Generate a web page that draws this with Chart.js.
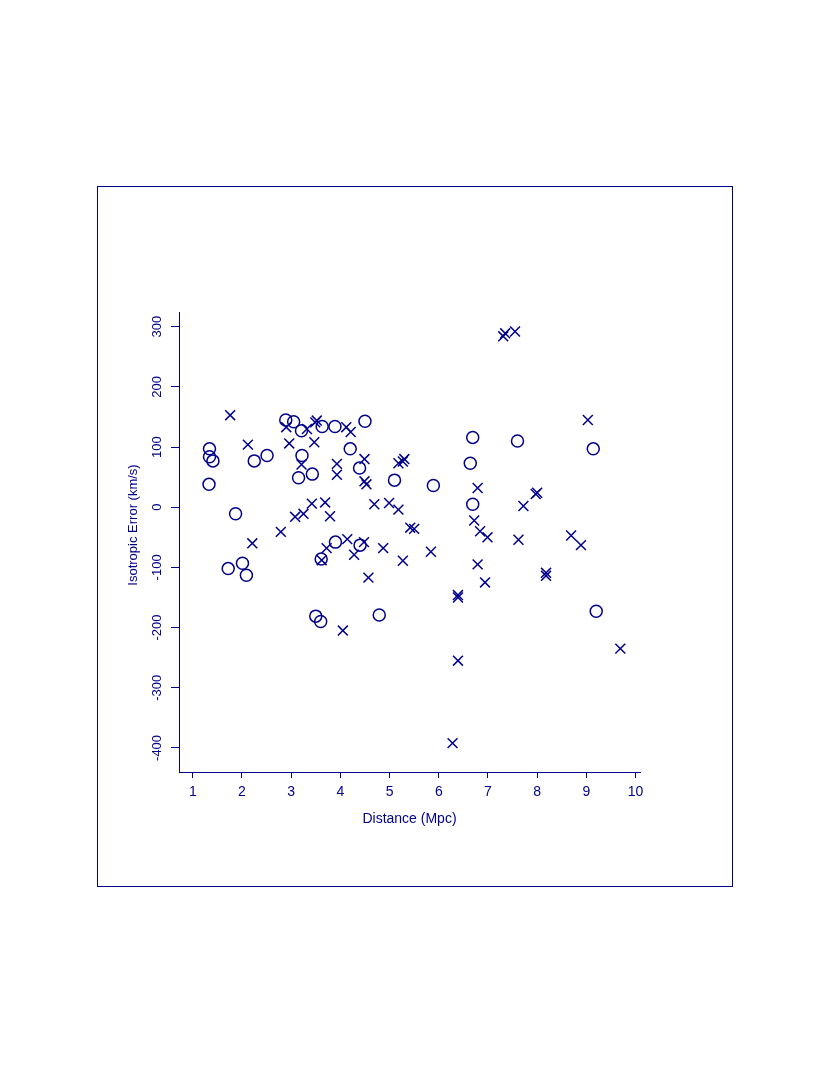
<!DOCTYPE html>
<html><head><meta charset="utf-8">
<style>html,body{margin:0;padding:0;background:#fff;}#wrap{width:830px;height:1075px;}</style>
<script src="https://cdn.jsdelivr.net/npm/chart.js@4/dist/chart.umd.min.js"></script>
</head><body><div id="wrap"><canvas id="c" width="830" height="1075"></canvas></div>
<script>
// Open circles
const circleDistance = [1.34, 1.34, 1.41, 1.33, 1.87, 1.72, 2.01, 2.09, 2.25, 2.51, 2.89, 3.05, 3.21, 3.22, 3.15, 3.43, 3.63, 3.89, 4.50, 4.20, 4.39, 5.10, 3.90, 4.40, 3.61, 3.50, 3.60, 4.79, 5.89, 6.69, 6.64, 6.69, 7.60, 9.14, 9.20];
const circleError    = [97, 84, 77, 38, -11, -102, -93, -113, 77, 86, 145, 142, 127, 86, 49, 55, 134, 134, 143, 97, 65, 45, -58, -63, -86, -181, -190, -179, 36, 116, 73, 5, 110, 97, -173];
// Crosses
const crossDistance = [1.76, 2.12, 2.21, 2.79, 2.90, 2.96, 3.32, 3.52, 3.49, 3.47, 4.12, 4.21, 3.21, 3.93, 3.93, 4.49, 4.49, 4.53, 5.18, 5.30, 5.27, 3.08, 3.25, 3.42, 3.69, 3.79, 4.69, 4.99, 5.18, 5.42, 5.50, 4.14, 4.48, 4.28, 3.72, 3.62, 4.87, 4.57, 5.27, 4.05, 5.84, 6.39, 6.39, 6.39, 6.28, 6.72, 6.79, 6.84, 6.99, 6.79, 6.94, 7.31, 7.35, 7.55, 7.72, 7.62, 7.97, 8.00, 8.18, 8.18, 8.69, 8.89, 9.03, 9.69];
const crossError    = [153, 104, -60, -41, 133, 106, 130, 144, 141, 108, 133, 125, 71, 72, 54, 80, 43, 38, 73, 80, 76, -16, -11, 6, 8, -15, 5, 7, -4, -34, -36, -53, -58, -79, -68, -88, -68, -117, -89, -205, -74, -146, -150, -255, -392, -22, 32, -40, -50, -95, -125, 284, 289, 292, 2, -54, 22, 24, -109, -114, -47, -63, 145, -235];
// Axes
const xTickValues = [1, 2, 3, 4, 5, 6, 7, 8, 9, 10];
const yTickValues = [-400, -300, -200, -100, 0, 100, 200, 300];
const xTitle = 'Distance (Mpc)';
const yTitle = 'Isotropic Error (km/s)';

const INK = '#00008B';
const FONT = "'Liberation Sans', Arial, Helvetica, sans-serif";

const toPoints = (xs, ys) => xs.map((x, i) => ({ x: x, y: ys[i] }));

const decor = {
  id: 'decor',
  afterDraw(chart) {
    const ctx = chart.ctx;
    ctx.save();
    ctx.strokeStyle = INK;
    ctx.lineWidth = 1;
    ctx.strokeRect(97.5, 186.5, 635, 700);
    ctx.fillStyle = INK;
    ctx.textAlign = 'center';
    ctx.textBaseline = 'middle';
    ctx.font = '14px ' + FONT;
    const xs = chart.scales.x;
    ctx.fillText(xTitle, (xs.left + xs.right) / 2, 819);
    ctx.translate(133, 525);
    ctx.rotate(-Math.PI / 2);
    ctx.font = '13px ' + FONT;
    ctx.fillText(yTitle, 0, 0);
    ctx.restore();
  }
};

new Chart(document.getElementById('c'), {
  type: 'scatter',
  data: {
    datasets: [
      { label: 'circles', data: toPoints(circleDistance, circleError), pointStyle: 'circle', pointRadius: 6, pointHoverRadius: 6, borderColor: INK, backgroundColor: 'rgba(0,0,0,0)', borderWidth: 1.5 },
      { label: 'crosses', data: toPoints(crossDistance, crossError), pointStyle: 'crossRot', pointRadius: 7, pointHoverRadius: 7, borderColor: INK, backgroundColor: INK, borderWidth: 1.5 }
    ]
  },
  options: {
    responsive: false,
    devicePixelRatio: 1,
    animation: false,
    events: [],
    layout: { padding: { left: 119, right: 190, top: 312, bottom: 243 } },
    plugins: { legend: { display: false }, tooltip: { enabled: false } },
    scales: {
      x: {
        type: 'linear', min: 0.72, max: 10.09,
        afterBuildTicks: s => { s.ticks = xTickValues.map(v => ({ value: v })); },
        afterFit: s => { s.height = 60; },
        grid: { display: true, drawOnChartArea: false, drawTicks: true, tickLength: 6, color: INK, lineWidth: 1 },
        border: { display: true, color: INK, width: 1 },
        ticks: { color: INK, font: { family: FONT, size: 14 }, padding: 6, maxRotation: 0, autoSkip: false }
      },
      y: {
        type: 'linear', min: -440, max: 324.4,
        afterBuildTicks: s => { s.ticks = yTickValues.map(v => ({ value: v })); },
        afterFit: s => { s.width = 60; },
        grid: { display: true, drawOnChartArea: false, drawTicks: true, tickLength: 8, color: INK, lineWidth: 1 },
        border: { display: true, color: INK, width: 1 },
        ticks: { color: INK, font: { family: FONT, size: 13 }, padding: 1, minRotation: 90, maxRotation: 90, crossAlign: 'center', autoSkip: false }
      }
    }
  },
  plugins: [decor]
});
</script></body></html>
